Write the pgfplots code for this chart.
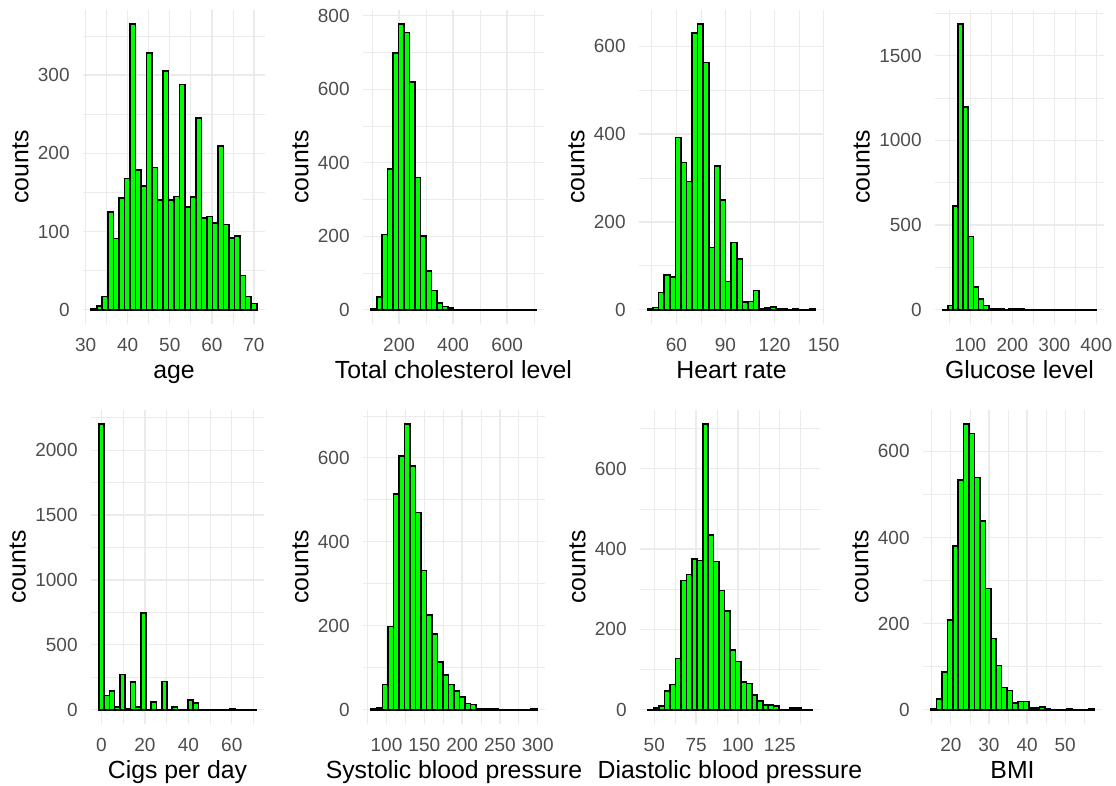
\documentclass[border=0pt]{standalone}
\usepackage{pgfplots}
\pgfplotsset{compat=1.18}
\usepackage{fontspec}
\setmainfont{Liberation Sans}
\definecolor{gridc}{HTML}{EBEBEB}
\definecolor{tickc}{HTML}{4D4D4D}
\definecolor{barg}{HTML}{00FF00}
\pgfplotsset{
  hist/.style={
    scale only axis, height=157pt, anchor=south west,
    axis line style={draw=none}, major tick length=0pt, minor tick length=0pt,
    xmajorgrids, ymajorgrids, xminorgrids, yminorgrids,
    major grid style={draw=gridc, line width=0.65pt},
    minor grid style={draw=gridc, line width=0.35pt},
    tick label style={font=\fontsize{9.5}{10}\selectfont, text=tickc, inner sep=0pt},
    /pgf/number format/assume math mode=true,
    /pgf/number format/1000 sep={},
    xticklabel shift=7pt, yticklabel shift=6.5pt,
    ylabel={counts},
    label style={font=\fontsize{12.4}{14}\selectfont, text=black},
    ylabel style={inner sep=4.5pt},
    xlabel style={at={(axis description cs:0.5,0)}, anchor=base, yshift=-27.5pt},
    scaled ticks=false,
  },
  bars/.style={ybar, bar shift=0pt, bar width=#1, fill=barg, draw=black, line width=0.8pt},
}
\begin{document}
\begin{tikzpicture}
\path[use as bounding box] (0,0) rectangle (558pt,393pt);
% ---------------- Row 1 ----------------
\begin{axis}[hist, at={(41.5pt,231pt)}, width=91pt,
  xmin=29.38, xmax=72.62, ymin=-18.25, ymax=383.25,
  xtick={30,40,50,60,70}, minor xtick={35,45,55,65},
  ytick={0,100,200,300}, minor ytick={50,150,250,350},
  xlabel={age}]
\addplot[bars=1.3103] coordinates {
(32.00,1) (33.31,5) (34.62,17) (35.93,125) (37.24,91) (38.55,143) (39.86,168) (41.17,365) (42.48,179) (43.79,158)
(45.10,328) (46.41,182) (47.72,140) (49.03,305) (50.34,140) (51.66,145) (52.97,288) (54.28,131) (55.59,144) (56.90,245)
(58.21,117) (59.52,119) (60.83,111) (62.14,209) (63.45,109) (64.76,92) (66.07,94) (67.38,44) (68.69,17) (70.00,8)};
\end{axis}
\begin{axis}[hist, at={(181.5pt,231pt)}, width=90.5pt,
  xmin=66.4, xmax=736.6, ymin=-38.85, ymax=815.85,
  xtick={200,400,600}, minor xtick={100,300,500,700},
  ytick={0,200,400,600,800}, minor ytick={100,300,500,700},
  xlabel={Total cholesterol level}]
\addplot[bars=20.31] coordinates {
(107.0,3) (127.3,34) (147.6,205) (167.9,383) (188.2,699) (208.6,777) (228.9,755) (249.2,620) (269.5,360) (289.8,201)
(310.1,105) (330.4,52) (350.7,18) (371.0,9) (391.3,4) (411.7,1) (432.0,1) (452.3,0) (472.6,0) (492.9,0)
(513.2,0) (533.5,0) (553.8,0) (574.1,0) (594.4,1) (614.8,0) (635.1,0) (655.4,0) (675.7,0) (696.0,1)};
\end{axis}
\begin{axis}[hist, at={(319.5pt,231pt)}, width=92.5pt,
  xmin=37.17, xmax=150.2, ymin=-32.5, ymax=682.5,
  xtick={60,90,120,150}, minor xtick={45,75,105,135},
  ytick={0,200,400,600}, minor ytick={100,300,500},
  xlabel={Heart rate}]
\addplot[bars=3.414] coordinates {
(44.00,3) (47.41,5) (50.83,39) (54.24,79) (57.66,74) (61.07,392) (64.48,335) (67.90,292) (71.31,630) (74.72,650)
(78.14,563) (81.55,142) (84.97,327) (88.38,250) (91.79,64) (95.21,153) (98.62,116) (102.03,17) (105.45,19) (108.86,44)
(112.28,2) (115.69,4) (119.10,6) (122.52,3) (125.93,2) (129.34,0) (132.76,1) (136.17,0) (139.59,0) (143.00,1)};
\end{axis}
\begin{axis}[hist, at={(467.5pt,231pt)}, width=84.5pt,
  xmin=15.6, xmax=418.4, ymin=-84.3, ymax=1770.3,
  xtick={100,200,300,400}, minor xtick={50,150,250,350},
  ytick={0,500,1000,1500}, minor ytick={250,750,1250,1750},
  xlabel={Glucose level}]
\addplot[bars=12.207] coordinates {
(40.0,2) (52.2,25) (64.4,613) (76.6,1686) (88.8,1198) (101.0,432) (113.2,134) (125.4,63) (137.7,24) (149.9,8)
(162.1,4) (174.3,5) (186.5,2) (198.7,3) (210.9,5) (223.1,4) (235.3,2) (247.5,1) (259.7,1) (271.9,1)
(284.1,1) (296.3,1) (308.6,0) (320.8,1) (333.0,0) (345.2,1) (357.4,0) (369.6,1) (381.8,1) (394.0,1)};
\end{axis}
% ---------------- Row 2 ----------------
\begin{axis}[hist, at={(45.5pt,31pt)}, width=86.5pt,
  xmin=-4.83, xmax=74.83, ymin=-110, ymax=2310,
  xtick={0,20,40,60}, minor xtick={10,30,50,70},
  ytick={0,500,1000,1500,2000}, minor ytick={250,750,1250,1750,2250},
  xlabel={Cigs per day}]
\addplot[bars=2.4138] coordinates {
(0.00,2200) (2.41,110) (4.83,146) (7.24,20) (9.66,270) (12.07,5) (14.48,213) (16.90,20) (19.31,745) (21.72,2)
(24.14,60) (26.55,0) (28.97,218) (31.38,0) (33.79,20) (36.21,0) (38.62,0) (41.03,77) (43.45,52) (45.86,2)
(48.28,0) (50.69,1) (53.10,0) (55.52,0) (57.93,0) (60.34,8) (62.76,0) (65.17,0) (67.59,0) (70.00,1)};
\end{axis}
\begin{axis}[hist, at={(181.5pt,31pt)}, width=91pt,
  xmin=68.9, xmax=309.6, ymin=-34, ymax=714,
  xtick={100,150,200,250,300}, minor xtick={75,125,175,225,275},
  ytick={0,200,400,600}, minor ytick={100,300,500,700},
  xlabel={Systolic blood pressure}]
\addplot[bars=7.293] coordinates {
(83.50,2) (90.79,4) (98.09,60) (105.38,198) (112.67,514) (119.97,605) (127.26,680) (134.55,581) (141.84,470) (149.14,332)
(156.43,225) (163.72,181) (171.02,114) (178.31,82) (185.60,60) (192.90,44) (200.19,31) (207.48,15) (214.78,12) (222.07,2)
(229.36,1) (236.66,3) (243.95,1) (251.24,0) (258.53,0) (265.83,0) (273.12,0) (280.41,0) (287.71,0) (295.00,1)};
\end{axis}
\begin{axis}[hist, at={(320pt,31pt)}, width=90pt,
  xmin=41.48, xmax=149.02, ymin=-35.55, ymax=746.55,
  xtick={50,75,100,125}, minor xtick={62.5,87.5,112.5,137.5},
  ytick={0,200,400,600}, minor ytick={100,300,500,700},
  xlabel={Diastolic blood pressure}]
\addplot[bars=3.2586] coordinates {
(48.00,1) (51.26,4) (54.52,10) (57.78,47) (61.03,63) (64.29,128) (67.55,322) (70.81,337) (74.07,376) (77.33,372)
(80.59,711) (83.84,435) (87.10,369) (90.36,297) (93.62,246) (96.88,148) (100.14,120) (103.40,69) (106.66,65) (109.91,37)
(113.17,21) (116.43,12) (119.69,12) (122.95,10) (126.21,1) (129.47,1) (132.72,4) (135.98,4) (139.24,0) (142.50,1)};
\end{axis}
\begin{axis}[hist, at={(461.5pt,31pt)}, width=89.5pt,
  xmin=12.7, xmax=59.64, ymin=-33.15, ymax=696.15,
  xtick={20,30,40,50}, minor xtick={15,25,35,45,55},
  ytick={0,200,400,600}, minor ytick={100,300,500,700},
  xlabel={BMI}]
\addplot[bars=1.4228] coordinates {
(15.54,1) (16.96,25) (18.39,87) (19.81,208) (21.23,380) (22.65,534) (24.08,663) (25.50,642) (26.92,539) (28.34,439)
(29.77,282) (31.19,165) (32.61,103) (34.04,52) (35.46,45) (36.88,16) (38.30,19) (39.73,19) (41.15,4) (42.57,4)
(44.00,6) (45.42,2) (46.84,0) (48.26,0) (49.69,0) (51.11,1) (52.53,0) (53.95,0) (55.38,0) (56.80,1)};
\end{axis}
\end{tikzpicture}
\end{document}
